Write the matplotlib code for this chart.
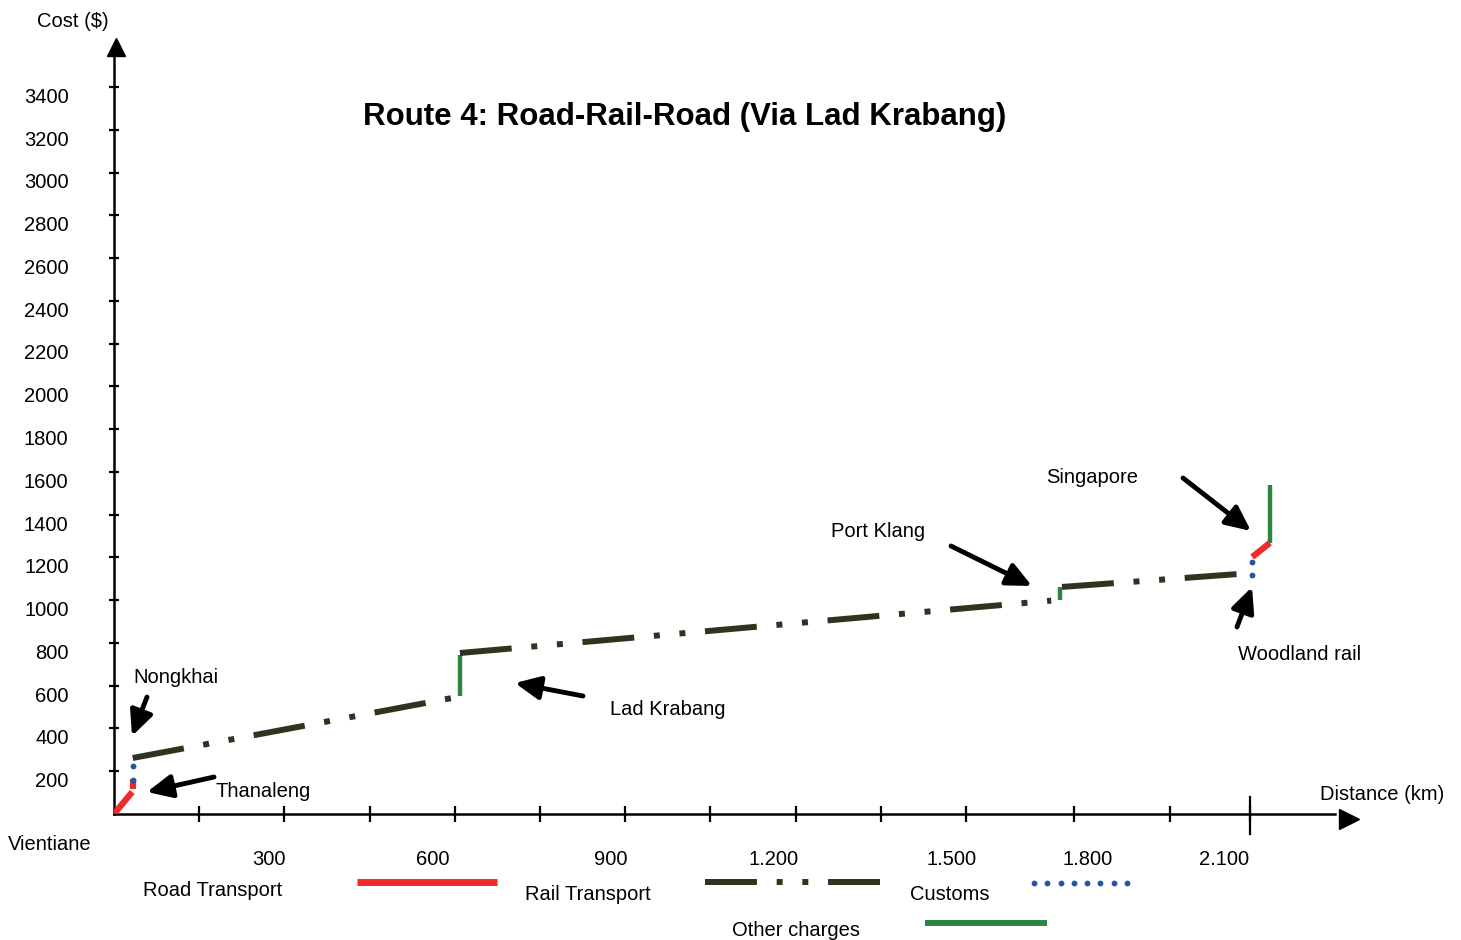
import numpy as np
import matplotlib
matplotlib.use("Agg")
import matplotlib.pyplot as plt
from matplotlib.transforms import ScaledTranslation

plt.rcParams['font.family'] = ['Liberation Sans', 'DejaVu Sans']
FS = 14.5

# ---- data (km, $) ----
road_km = [[0, 32], [33, 33], [2004, 2035]]
road_cost = [[0, 103], [117, 162], [1202, 1268]]
rail_km = [[33, 604], [609, 1650], [1669, 1982]]
rail_cost = [[262, 547], [753, 998], [1062, 1123]]
customs_km = [[33, 33], [2004, 2004]]
customs_cost = [[159, 224], [1118, 1179]]
other_km = [[609, 609], [1665, 1665], [2035, 2035]]
other_cost = [[552, 744], [1001, 1062], [1268, 1539]]

y_ticks = list(range(200, 3401, 200))
x_ticks = [150, 300, 450, 600, 750, 900, 1050, 1200, 1350, 1500, 1690, 1860, 2000]
x_label_pos = [273, 562, 875, 1162, 1474, 1715, 1954]
x_labels = ["300", "600", "900", "1.200", "1.500", "1.800", "2.100"]

RED = "#ee2b2b"
RAIL = "#30331e"
GREEN = "#2e8540"
BLUE = "#2453a8"
RAIL_DASH = (0, (8.7, 3.3, 1, 3.3, 1, 3.3))

W, H = 1461, 940
fig = plt.figure(figsize=(W / 100, H / 100), dpi=100)

# origin and axis ends in pixels, scale in px per unit
x0, y0, x1, y1 = 114, 814, 1335, 55
PX_KM, PX_USD = 0.568, 0.2138
ax = fig.add_axes([x0 / W, (H - y0) / H, (x1 - x0) / W, (y0 - y1) / H])
ax.set_xlim(0, (x1 - x0) / PX_KM)
ax.set_ylim(0, (y0 - y1) / PX_USD)
ax.patch.set_visible(False)
for s in ["top", "right"]:
    ax.spines[s].set_visible(False)
for s in ["left", "bottom"]:
    ax.spines[s].set_linewidth(1.8)

ax.set_yticks(y_ticks)
ax.set_yticklabels([str(v) for v in y_ticks], fontsize=FS)
ax.tick_params(axis="y", direction="inout", length=7.5, width=1.6, pad=29)
off = ScaledTranslation(0, -6 / 72, fig.dpi_scale_trans)
for lbl in ax.get_yticklabels():
    lbl.set_transform(lbl.get_transform() + off)

ax.set_xticks(x_ticks)
ax.set_xticklabels([])
ax.set_xticks(x_label_pos, minor=True)
ax.set_xticklabels(x_labels, minor=True, fontsize=FS)
ax.tick_params(axis="x", which="major", direction="inout", length=11.5, width=1.6)
ax.tick_params(axis="x", which="minor", length=0, pad=26)
# the last distance tick is drawn longer
ax.plot([x_ticks[-1]] * 2, [-0.026, 0.022], color="black", lw=1.6,
        transform=ax.get_xaxis_transform(), clip_on=False)

for xs, ys in zip(road_km, road_cost):
    ax.plot(xs, ys, color=RED, lw=4.5, solid_capstyle="butt", zorder=3)
for xs, ys in zip(rail_km, rail_cost):
    ax.plot(xs, ys, color=RAIL, lw=4.3, linestyle=RAIL_DASH, zorder=3)
for xs, ys in zip(other_km, other_cost):
    ax.plot(xs, ys, color=GREEN, lw=3.2, solid_capstyle="butt", zorder=2)
for xs, ys in zip(customs_km, customs_cost):
    ax.plot(xs, ys, linestyle="none", marker="o", ms=4.2, mew=0, color=BLUE, zorder=4)

# ---- overlay in pixel coordinates for labels, arrows, legend ----
ov = fig.add_axes([0, 0, 1, 1])
ov.set_xlim(0, W)
ov.set_ylim(H, 0)
ov.axis("off")
ov.patch.set_visible(False)

# axis arrow heads
ov.plot([116], [46.5], marker="^", ms=13, color="black", clip_on=False)
ov.plot([1349], [819], marker=">", ms=14, color="black", clip_on=False)

ov.text(685, 117, "Route 4: Road-Rail-Road (Via Lad Krabang)", ha="center", va="center",
        fontsize=22.5, fontweight="bold")

labels = [
    ("Cost ($)", 37, 27),
    ("Nongkhai", 133, 683),
    ("Thanaleng", 215, 797),
    ("Lad Krabang", 610, 715),
    ("Port Klang", 831, 537),
    ("Singapore", 1046, 483),
    ("Woodland rail", 1238, 660),
    ("Vientiane", 8, 850),
    ("Distance (km)", 1320, 800),
    ("Road Transport", 143, 896),
    ("Rail Transport", 525, 900),
    ("Customs", 910, 900),
    ("Other charges", 732, 936),
]
for txt, tx, ty in labels:
    ov.text(tx, ty, txt, ha="left", va="baseline", fontsize=FS)

arrows = [
    ((147, 697), (132, 736)),
    ((214, 777), (147, 792)),
    ((583, 696), (515, 683)),
    ((951, 546), (1032, 586)),
    ((1183, 478), (1251, 531)),
    ((1237, 627), (1252, 587)),
]
for tail, tip in arrows:
    ov.annotate("", xy=tip, xytext=tail,
                arrowprops=dict(arrowstyle="-|>,head_length=0.75,head_width=0.35",
                                lw=3.5, color="black", shrinkA=0, shrinkB=0,
                                mutation_scale=20))

# legend keys
ov.plot([357, 497], [882, 882], color=RED, lw=5, solid_capstyle="butt")
ov.plot([705, 883], [882, 882], color=RAIL, lw=4.3, linestyle=RAIL_DASH)
ov.plot(np.linspace(1034, 1127, 8), [883] * 8, linestyle="none", marker="o", ms=4.2,
        mew=0, color=BLUE)
ov.plot([925, 1047], [923, 923], color=GREEN, lw=4.3, solid_capstyle="butt")

fig.savefig("out.png", dpi=100)
